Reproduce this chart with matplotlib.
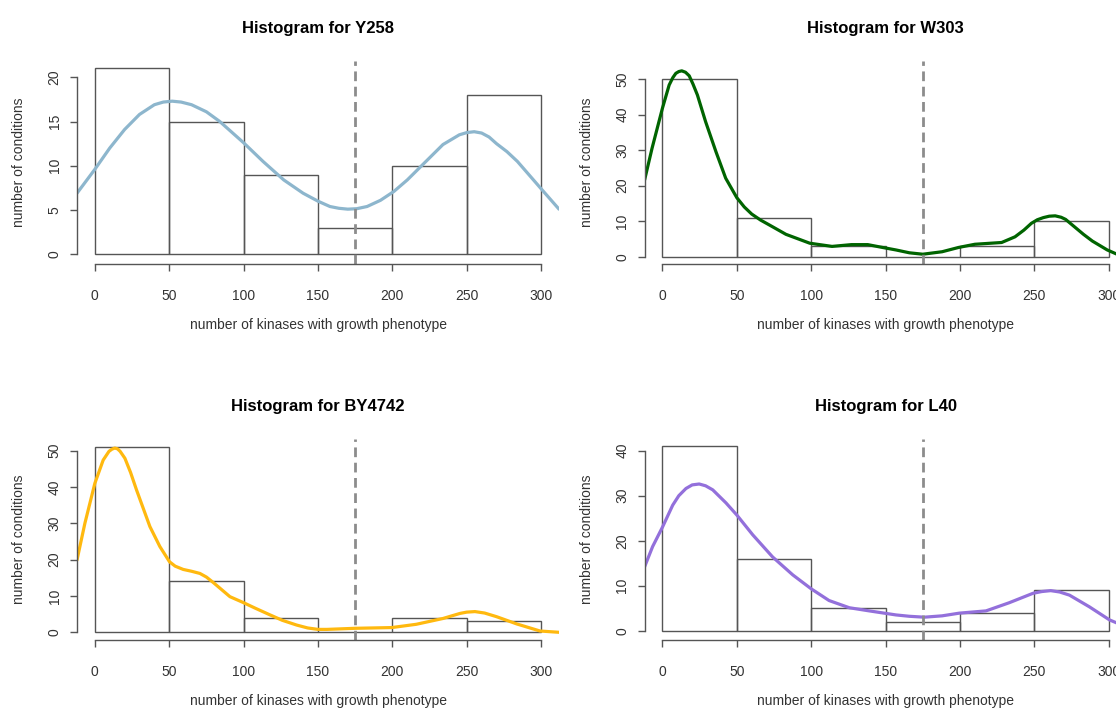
# Histogramas de fenotipo por cepa, estilo R base

import numpy as np
import matplotlib.pyplot as plt

plt.rcParams['font.family'] = ['Liberation Sans', 'DejaVu Sans']

# Datos

bins = [0, 50, 100, 150, 200, 250, 300]
umbral = 175

y258_counts = [21, 15, 9, 3, 10, 18]
w303_counts = [50, 11, 3, 0, 3, 10]
by4742_counts = [51, 14, 4, 0, 4, 3]
l40_counts = [41, 16, 5, 2, 4, 9]

# curvas de densidad (escaladas a conteos)
y258_dx = [-12, 0, 10, 20, 30, 40, 46, 52, 58, 65, 75, 84, 100, 113, 127, 140, 150, 158,
           164, 170, 176, 183, 192, 201, 210, 219, 234, 245, 250, 255, 260, 265, 270, 277,
           284, 300, 312]
y258_dy = [6.9, 9.6, 12.0, 14.1, 15.8, 16.9, 17.2, 17.3, 17.2, 16.9, 16.1, 15.0, 12.6,
           10.5, 8.4, 6.9, 6.0, 5.4, 5.2, 5.1, 5.15, 5.4, 6.1, 7.1, 8.4, 9.9, 12.4, 13.5,
           13.75, 13.85, 13.7, 13.25, 12.5, 11.6, 10.5, 7.4, 5.1]

w303_dx = [-12, -7, 0, 4.5, 7, 9, 11, 13, 15.5, 18, 20.5, 23.5, 29, 36, 42.5, 50, 55,
           60, 66, 72, 83, 99, 114, 127, 138, 148, 157, 166, 175, 188, 199, 210, 228,
           237, 243, 248, 252, 256, 260, 264, 268, 271, 277, 283, 289, 299, 305, 312]
w303_dy = [21.6, 30.5, 41.8, 48.3, 50.4, 51.6, 52.1, 52.3, 51.9, 50.9, 48.6, 45.5, 38.0,
           29.5, 22.1, 16.6, 14.0, 12.0, 10.3, 8.9, 6.3, 3.8, 2.9, 3.4, 3.4, 2.6, 1.9,
           1.1, 0.7, 1.4, 2.6, 3.5, 4.0, 5.6, 7.5, 9.4, 10.4, 11.0, 11.4, 11.5, 11.1,
           10.5, 8.4, 6.3, 4.4, 1.9, 0.8, 0.3]

by4742_dx = [-12, -6.7, 0, 5.6, 9.5, 11.5, 13.4, 15.2, 17, 20.2, 24, 28, 37, 43.7,
             50.2, 54, 59.4, 65, 70.6, 75, 79.6, 90.8, 99.7, 108, 117.7, 126, 135.6,
             143, 150, 156, 175, 199.5, 216, 234, 245.5, 250, 255.5, 262, 270, 283.6,
             299.3, 312]
by4742_dy = [19.9, 30.0, 41.0, 47.4, 49.8, 50.4, 50.7, 50.5, 49.8, 47.9, 44.0, 39.2,
             29.1, 23.6, 19.4, 18.2, 17.3, 16.8, 16.2, 15.2, 13.7, 9.8, 8.2, 6.6, 4.8,
             3.3, 2.0, 1.2, 0.8, 0.8, 1.1, 1.3, 2.2, 3.8, 5.2, 5.55, 5.7, 5.3, 4.3,
             2.3, 0.35, 0.0]

l40_dx = [-12, -6.6, 0, 6.9, 11, 15.8, 20, 24.7, 29, 33.8, 42.7, 50, 60.7, 74, 87.6,
          100, 112, 125.6, 139, 149, 157, 166, 176, 188, 199.6, 217.5, 233, 249, 255,
          261, 267, 273.6, 287, 300.5, 312]
l40_dy = [14.2, 18.7, 23.0, 27.9, 30.0, 31.6, 32.4, 32.6, 32.2, 31.3, 28.4, 25.7, 21.3,
          16.4, 12.4, 9.3, 6.7, 5.1, 4.4, 3.9, 3.5, 3.2, 3.0, 3.3, 3.9, 4.4, 6.2, 8.3,
          8.7, 8.9, 8.6, 7.9, 5.3, 2.4, 0.8]

# Figura

W, H = 1116, 709
fig = plt.figure(figsize=(W / 100, H / 100), dpi=100)

paneles = [
    # nombre, conteos, curva x, curva y, color, (izq, arriba, abajo) px, ylim, ticks y
    ("Y258", y258_counts, y258_dx, y258_dy, "#8DB6CD", (77, 61, 263.5), (-1.04, 21.84), range(0, 21, 5)),
    ("W303", w303_counts, w303_dx, w303_dy, "#006400", (644.6, 61, 263.5), (-1.91, 55.07), range(0, 51, 10)),
    ("BY4742", by4742_counts, by4742_dx, by4742_dy, "#FFB90F", (77, 439, 640), (-2.12, 53.2), range(0, 51, 10)),
    ("L40", l40_counts, l40_dx, l40_dy, "#9370DB", (644.6, 439, 640), (-2.07, 42.6), range(0, 41, 10)),
]

ancho = 482
gris = "#555555"
texto = "#333333"

for nombre, conteos, dx, dy, color, (izq, arriba, abajo), ylim, yticks in paneles:
    alto = abajo - arriba
    ax = fig.add_axes([izq / W, 1 - abajo / H, ancho / W, alto / H])

    ax.bar(bins[:-1], conteos, width=50, align="edge", fill=False,
           edgecolor=gris, linewidth=1.0)
    ax.plot(dx, dy, color=color, linewidth=2.3, solid_capstyle="round",
            solid_joinstyle="round")
    ax.axvline(umbral, color="#8c8c8c", linewidth=2, linestyle=(0, (3.5, 2)))

    ax.set_xlim(-12, 312)
    ax.set_ylim(*ylim)

    for lado in ["top", "right"]:
        ax.spines[lado].set_visible(False)
    ax.spines["bottom"].set_bounds(0, 300)
    ax.spines["left"].set_bounds(0, max(yticks))
    for lado in ["bottom", "left"]:
        ax.spines[lado].set_color(gris)
        ax.spines[lado].set_linewidth(1.0)

    ax.set_xticks(bins)
    ax.set_yticks(list(yticks))
    ax.tick_params(axis="both", direction="out", length=5, width=1.0, color=gris,
                   labelsize=10, labelcolor=texto)
    ax.tick_params(axis="x", pad=13)
    ax.tick_params(axis="y", pad=6)
    for lab in ax.get_yticklabels():
        lab.set_rotation(90)
        lab.set_va("center")

    ax.set_title("Histogram for " + nombre, fontsize=12, fontweight="bold", pad=20)
    ax.set_xlabel("number of kinases with growth phenotype", fontsize=10, color=texto)
    ax.set_ylabel("number of conditions", fontsize=10, color=texto)
    ax.xaxis.set_label_coords(0.5, -54.5 / alto)
    ax.yaxis.set_label_coords(-51 / ancho, 0.5)

plt.savefig("out.png", dpi=100)
